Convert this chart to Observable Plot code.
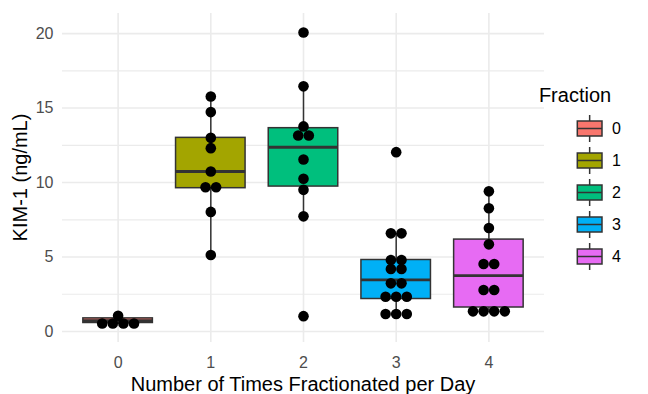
<!DOCTYPE html>
<html><head><meta charset="utf-8">
<script src="https://cdn.jsdelivr.net/npm/d3@7"></script>
<script src="https://cdn.jsdelivr.net/npm/@observablehq/plot@0.6"></script>
<style>body{margin:0;background:#fff;} svg{display:block}</style>
</head><body><div id="chart"></div>
<script>
// ---- data ----
const fractions = [0, 1, 2, 3, 4];
const fractionLabels = ["0", "1", "2", "3", "4"];
const fillColors = ["#F8766D", "#A3A500", "#00BF7D", "#00B0F6", "#E76BF3"];
// box statistics per fraction
const boxLow    = [0.50, 5.14, 7.73, 1.17, 1.35];
const boxQ1     = [0.57, 9.62, 9.73, 2.18, 1.61];
const boxMedian = [0.72, 10.74, 12.37, 3.47, 3.75];
const boxQ3     = [0.88, 13.00, 13.65, 4.80, 6.17];
const boxHigh   = [1.00, 15.78, 16.46, 6.59, 9.41];
// dot-plot (binned) values per fraction
const dots0 = [0.54, 0.54, 0.54, 0.54, 1.06];
const dots1 = [15.78, 14.73, 13.0, 12.31, 10.74, 9.68, 9.68, 8.03, 5.14];
const dots2 = [20.07, 16.46, 13.77, 13.16, 13.16, 11.55, 10.25, 9.51, 7.73, 1.03];
const dots3 = [12.04, 6.59, 6.59, 4.80, 4.80, 4.19, 4.19, 3.23, 3.23, 2.33, 2.33, 2.33, 1.17, 1.17, 1.17];
const dots4 = [9.41, 8.27, 6.95, 5.85, 4.53, 4.53, 2.78, 2.78, 1.35, 1.35, 1.35, 1.35];
const yTicks = [0, 5, 10, 15, 20];
const yMinor = [2.5, 7.5, 12.5, 17.5];
const xTitle = "Number of Times Fractionated per Day";
const yTitle = "KIM-1 (ng/mL)";
const legendTitle = "Fraction";

// ---- layout ----
const W = 648, H = 394;
const mL = 62, mR = 104, mT = 13, mB = 52;
const xDomain = [-0.6, 4.6];
const pxPerX = (W - mL - mR) / (xDomain[1] - xDomain[0]);
const dotR = 5.3;
const dotStep = 10.6 / pxPerX; // horizontal stacking step in x units
const halfBox = 0.375;
const font = "'Liberation Sans', Arial, Helvetica, sans-serif";

const boxes = fractions.map((f, i) => ({
  f, fill: fillColors[i], low: boxLow[i], q1: boxQ1[i], med: boxMedian[i], q3: boxQ3[i], high: boxHigh[i]
}));
const dotGroups = [dots0, dots1, dots2, dots3, dots4];
const dots = [];
dotGroups.forEach((vals, gi) => {
  const counts = d3.rollup(vals, v => v.length, v => v);
  const seen = new Map();
  vals.forEach(v => {
    const n = counts.get(v);
    const k = seen.get(v) || 0;
    seen.set(v, k + 1);
    dots.push({x: fractions[gi] + (k - (n - 1) / 2) * dotStep, y: v});
  });
});

const chart = Plot.plot({
  width: W, height: H,
  marginLeft: mL, marginRight: mR, marginTop: mT, marginBottom: mB,
  style: {fontFamily: font, background: "#fff"},
  x: {type: "linear", domain: xDomain},
  y: {domain: [-0.74, 21.35]},
  marks: [
    Plot.ruleY(yMinor, {stroke: "#EBEBEB", strokeWidth: 1.2}),
    Plot.ruleY(yTicks, {stroke: "#EBEBEB", strokeWidth: 1.6}),
    Plot.ruleX(fractions, {stroke: "#EBEBEB", strokeWidth: 1.6}),
    Plot.axisX(fractions, {tickSize: 0, tickPadding: 14.5, fontSize: 16, color: "#4D4D4D", fill: "#4D4D4D", tickFormat: d => fractionLabels[d], label: null}),
    Plot.axisY(yTicks, {tickSize: 0, tickPadding: 9, fontSize: 16, color: "#4D4D4D", fill: "#4D4D4D", label: null}),
    Plot.ruleX(boxes, {x: "f", y1: "low", y2: "q1", stroke: "#333333", strokeWidth: 1.5}),
    Plot.ruleX(boxes, {x: "f", y1: "q3", y2: "high", stroke: "#333333", strokeWidth: 1.5}),
    Plot.rect(boxes, {x1: d => d.f - halfBox, x2: d => d.f + halfBox, y1: "q1", y2: "q3", fill: "fill", stroke: "#333333", strokeWidth: 1.5}),
    Plot.ruleY(boxes, {y: "med", x1: d => d.f - halfBox, x2: d => d.f + halfBox, stroke: "#333333", strokeWidth: 2.8}),
    Plot.dot(dots, {x: "x", y: "y", r: dotR, fill: "#000", stroke: "none"})
  ]
});
document.getElementById("chart").appendChild(chart);

const svg = d3.select(chart);
const panelCx = (mL + (W - mR)) / 2;
const panelCy = (mT + (H - mB)) / 2;
svg.append("text").attr("x", panelCx).attr("y", 391)
  .attr("text-anchor", "middle").attr("font-size", 20).attr("fill", "#000")
  .attr("font-family", font).text(xTitle);
svg.append("text").attr("transform", `translate(26.5,${panelCy}) rotate(-90)`)
  .attr("text-anchor", "middle").attr("font-size", 20).attr("fill", "#000")
  .attr("font-family", font).text(yTitle);

// legend
const lg = svg.append("g").attr("font-family", font);
lg.append("text").attr("x", 575).attr("y", 101.5).attr("font-size", 20).attr("fill", "#000").text(legendTitle);
fractions.forEach((f, i) => {
  const cy = 128.5 + 32 * i;
  const x0 = 577.3, w = 24.7, cx = x0 + w / 2;
  lg.append("line").attr("x1", cx).attr("x2", cx).attr("y1", cy - 13.5).attr("y2", cy + 13.5).attr("stroke", "#333").attr("stroke-width", 1.5);
  lg.append("rect").attr("x", x0).attr("y", cy - 7.5).attr("width", w).attr("height", 15)
    .attr("fill", fillColors[i]).attr("stroke", "#333").attr("stroke-width", 1.5);
  lg.append("line").attr("x1", x0).attr("x2", x0 + w).attr("y1", cy).attr("y2", cy).attr("stroke", "#333").attr("stroke-width", 1.5);
  lg.append("text").attr("x", 616.5).attr("y", cy).attr("dy", "0.36em").attr("font-size", 16).attr("fill", "#000").text(fractionLabels[i]);
});
</script>
</body></html>
